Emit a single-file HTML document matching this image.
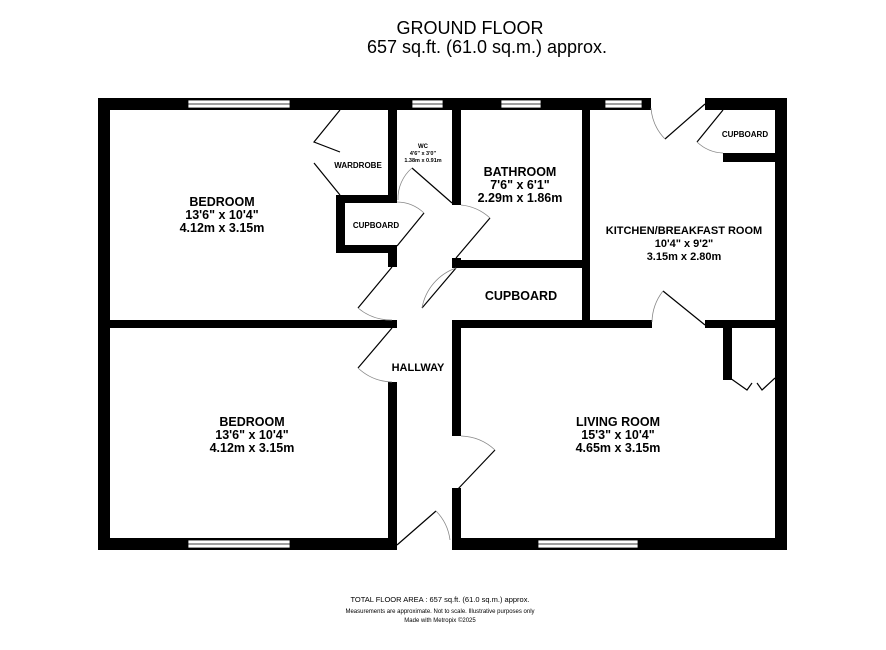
<!DOCTYPE html>
<html><head><style>
body{margin:0;background:#fff;}
svg{display:block;font-family:"Liberation Sans",Arial,sans-serif;}
.b{font-weight:bold;}
</style></head><body>
<svg width="886" height="650" viewBox="0 0 886 650">
<rect width="886" height="650" fill="#fff"/>
<text x="470" y="34" font-size="18" text-anchor="middle">GROUND FLOOR</text>
<text x="487" y="53" font-size="18" text-anchor="middle">657 sq.ft. (61.0 sq.m.) approx.</text>
<g fill="#000">
<rect x="98" y="98" width="553" height="12"/>
<rect x="705" y="98" width="82" height="12"/>
<rect x="98" y="98" width="12" height="452"/>
<rect x="775" y="98" width="12" height="452"/>
<rect x="98" y="538" width="299" height="12"/>
<rect x="452" y="538" width="335" height="12"/>
<rect x="388" y="110" width="9" height="90"/>
<rect x="336" y="195" width="61" height="8"/>
<rect x="336" y="195" width="9" height="58"/>
<rect x="336" y="245" width="61" height="8"/>
<rect x="388" y="245" width="9" height="22"/>
<rect x="452" y="110" width="9" height="95"/>
<rect x="452" y="258" width="9" height="10"/>
<rect x="452" y="260" width="138" height="8"/>
<rect x="582" y="110" width="8" height="218"/>
<rect x="98" y="320" width="299" height="8"/>
<rect x="452" y="320" width="9" height="116"/>
<rect x="452" y="488" width="9" height="62"/>
<rect x="452" y="320" width="200" height="8"/>
<rect x="705" y="320" width="82" height="8"/>
<rect x="388" y="382" width="9" height="168"/>
<rect x="723" y="153" width="52" height="9"/>
<rect x="723" y="328" width="9" height="52"/>
</g>
<g fill="#fff" stroke="#000" stroke-width="0.8">
<rect x="188" y="100" width="102" height="8"/>
<rect x="412" y="100" width="31" height="8"/>
<rect x="501" y="100" width="40" height="8"/>
<rect x="605" y="100" width="37" height="8"/>
<rect x="188" y="540" width="102" height="8"/>
<rect x="538" y="540" width="100" height="8"/>
</g>
<g stroke="#000" stroke-width="0.8">
<line x1="188" y1="104" x2="290" y2="104"/>
<line x1="412" y1="104" x2="443" y2="104"/>
<line x1="501" y1="104" x2="541" y2="104"/>
<line x1="605" y1="104" x2="642" y2="104"/>
<line x1="188" y1="544" x2="290" y2="544"/>
<line x1="538" y1="544" x2="638" y2="544"/>
</g>
<g fill="none" stroke="#000" stroke-width="1.2">
<polyline points="340,110 314,142 340,152"/>
<polyline points="314,163 340,195"/>
<line x1="412" y1="168" x2="452" y2="203"/>
<line x1="424" y1="213" x2="397" y2="246"/>
<line x1="490" y1="218" x2="456" y2="258"/>
<line x1="456" y1="268" x2="422" y2="308"/>
<line x1="392" y1="267" x2="358" y2="308"/>
<line x1="392" y1="328" x2="358" y2="368"/>
<line x1="495" y1="450" x2="457" y2="490"/>
<line x1="397" y1="545" x2="436" y2="511"/>
<line x1="705" y1="104" x2="665" y2="139"/>
<line x1="723" y1="110" x2="697" y2="142"/>
<line x1="663" y1="291" x2="705" y2="325"/>
<polyline points="730,378 747,390 752,383"/>
<polyline points="775,378 762,390 757,383"/>
</g>
<g fill="none" stroke="#888" stroke-width="0.8">
<path d="M398,200 A40,40 0 0 1 412,168"/>
<path d="M397,202 A40,40 0 0 1 424,213"/>
<path d="M461,205 A50,50 0 0 1 490,218"/>
<path d="M456,268 A52,52 0 0 0 422,308"/>
<path d="M358,308 A52,52 0 0 0 392,320"/>
<path d="M358,368 A52,52 0 0 0 392,382"/>
<path d="M461,436 A52,52 0 0 1 495,450"/>
<path d="M436,511 A50,50 0 0 1 450,540"/>
<path d="M651,108 A50,50 0 0 0 665,139"/>
<path d="M697,142 A40,40 0 0 0 723,153"/>
<path d="M652,322 A52,52 0 0 1 663,291"/>
</g>
<g text-anchor="middle" class="b">
<text x="222" y="206" font-size="12.5">BEDROOM</text>
<text x="222" y="219" font-size="12.5">13'6"  x 10'4"</text>
<text x="222" y="232" font-size="12.5">4.12m  x 3.15m</text>
<text x="252" y="426" font-size="12.5">BEDROOM</text>
<text x="252" y="439" font-size="12.5">13'6"  x 10'4"</text>
<text x="252" y="452" font-size="12.5">4.12m  x 3.15m</text>
<text x="520" y="176" font-size="12.5">BATHROOM</text>
<text x="520" y="189" font-size="12.5">7'6"  x 6'1"</text>
<text x="520" y="202" font-size="12.5">2.29m  x 1.86m</text>
<text x="521" y="300" font-size="12.5">CUPBOARD</text>
<text x="684" y="234" font-size="11">KITCHEN/BREAKFAST ROOM</text>
<text x="684" y="247" font-size="11">10'4"  x 9'2"</text>
<text x="684" y="260" font-size="11">3.15m  x 2.80m</text>
<text x="618" y="426" font-size="12.5">LIVING ROOM</text>
<text x="618" y="439" font-size="12.5">15'3"  x 10'4"</text>
<text x="618" y="452" font-size="12.5">4.65m  x 3.15m</text>
<text x="418" y="371" font-size="11">HALLWAY</text>
<text x="745" y="137" font-size="8">CUPBOARD</text>
<text x="376" y="228" font-size="8">CUPBOARD</text>
<text x="358" y="168" font-size="8">WARDROBE</text>
<text x="423" y="148" font-size="6">WC</text>
<text x="423" y="155" font-size="5.5">4'6"  x 3'0"</text>
<text x="423" y="162" font-size="5.5">1.38m  x 0.91m</text>
</g>
<g text-anchor="middle" font-size="7.5">
<text x="440" y="602">TOTAL FLOOR AREA : 657 sq.ft. (61.0 sq.m.) approx.</text>
<text x="440" y="613" font-size="6">Measurements are approximate.  Not to scale.  Illustrative purposes only</text>
<text x="440" y="622" font-size="6">Made with Metropix ©2025</text>
</g>
</svg>
</body></html>
